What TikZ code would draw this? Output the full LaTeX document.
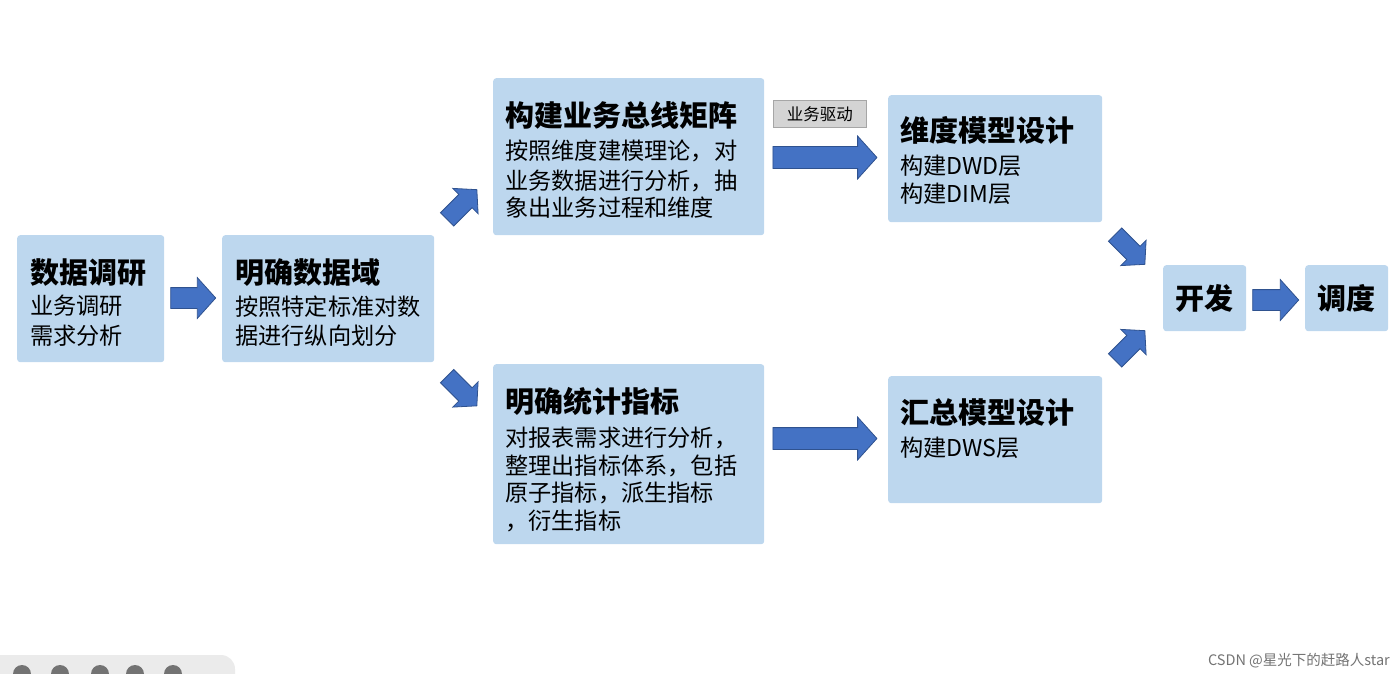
\documentclass[tikz,border=0pt]{standalone}
\usepackage{fontspec}
\setmainfont{Noto Sans CJK SC}
\usetikzlibrary{shapes.arrows}
\definecolor{boxblue}{HTML}{BDD7EE}
\definecolor{arrblue}{HTML}{4472C4}
\definecolor{arredge}{HTML}{2F528F}
\tikzset{
  box/.style={fill=boxblue, rounded corners=3pt, inner sep=0pt, anchor=north west},
  ttl/.style={font=\fontsize{29}{32}\selectfont\bfseries, anchor=base west, inner sep=0pt},
  bdy/.style={font=\fontsize{23.2}{27}\selectfont, anchor=base west, inner sep=0pt},
  blk/.style={single arrow, fill=arrblue, draw=arredge, line width=0.8pt, inner xsep=0pt,
    single arrow head indent=0pt, single arrow tip angle=96},
}
\begin{document}
\begin{tikzpicture}[x=1pt,y=-1pt]
\useasboundingbox (0,0) rectangle (1400,674);
% toolbar artifact
\fill[black!8, rounded corners=14pt] (-20,655) rectangle (235,700);
\foreach \cx in {22,60,100,135,173}{\fill[black!55] (\cx,674) circle (9);}
% boxes
\node[box, minimum width=147, minimum height=127] (b1) at (17,235) {};
\node[box, minimum width=212, minimum height=127] (b2) at (222,235) {};
\node[box, minimum width=271, minimum height=157] (b3) at (493,78) {};
\node[box, minimum width=271, minimum height=180] (b4) at (493,364) {};
\node[box, minimum width=214, minimum height=127] (b5) at (888,95) {};
\node[box, minimum width=214, minimum height=127] (b6) at (888,376) {};
\node[box, minimum width=83, minimum height=66] (b7) at (1163,265) {};
\node[box, minimum width=83, minimum height=66] (b8) at (1305,265) {};
% texts
\node[ttl] (t1) at (30,283) {数据调研};
\node[bdy] (t1a) at (30,314) {业务调研};
\node[bdy] (t1b) at (30,344) {需求分析};
\node[ttl] (t2) at (235,283) {明确数据域};
\node[bdy] (t2a) at (235,315) {按照特定标准对数};
\node[bdy] (t2b) at (235,344) {据进行纵向划分};
\node[ttl] (t3) at (505,127) {构建业务总线矩阵};
\node[bdy] (t3a) at (505,160) {按照维度建模理论，对};
\node[bdy] (t3b) at (505,189) {业务数据进行分析，抽};
\node[bdy] (t3c) at (505,216) {象出业务过程和维度};
\node[ttl] (t4) at (505,412) {明确统计指标};
\node[bdy] (t4a) at (505,446) {对报表需求进行分析，};
\node[bdy] (t4b) at (505,474) {整理出指标体系，包括};
\node[bdy] (t4c) at (505,501) {原子指标，派生指标};
\node[bdy] (t4d) at (505,529) {，衍生指标};
\node[ttl] (t5) at (900,142) {维度模型设计};
\node[bdy] (t5a) at (900,174) {构建DWD层};
\node[bdy] (t5b) at (900,202) {构建DIM层};
\node[ttl] (t6) at (900,423) {汇总模型设计};
\node[bdy] (t6a) at (900,456) {构建DWS层};
\node[font=\fontsize{29}{32}\selectfont\bfseries, inner sep=0pt] (t7) at (b7.center) {开发};
\node[font=\fontsize{29}{32}\selectfont\bfseries, inner sep=0pt] (t8) at (b8.center) {调度};
% label
\node[fill=black!17, draw=black!35, line width=0.6pt, minimum width=93, minimum height=27, inner sep=0pt,
  font=\fontsize{16.5}{18}\selectfont, anchor=north west] (lbl) at (773,100) {业务驱动};
% block arrows
\node[blk, minimum height=45, inner ysep=10, single arrow head extend=10] (a1) at (188.5,298) {};
\node[blk, minimum height=104, inner ysep=10.5, single arrow head extend=10.5] (a2) at (820,157.5) {};
\node[blk, minimum height=104, inner ysep=10.5, single arrow head extend=10.5] (a3) at (820,438.5) {};
\node[blk, minimum height=46, inner ysep=10, single arrow head extend=10] (a4) at (1271,300) {};
\node[blk, minimum height=42, inner ysep=9, single arrow head extend=8.5, rotate=45] (d1) at (459,207.5) {};
\node[blk, minimum height=42, inner ysep=9, single arrow head extend=8.5, rotate=-45] (d2) at (459,388) {};
\node[blk, minimum height=42, inner ysep=9, single arrow head extend=8.5, rotate=-45] (d3) at (1127,246.5) {};
\node[blk, minimum height=42, inner ysep=9, single arrow head extend=8.5, rotate=45] (d4) at (1127,348.5) {};
% watermark
\node[font=\fontsize{14.5}{16}\selectfont, text=black!55, anchor=base east, inner sep=0pt] (wm) at (1390,665) {CSDN @星光下的赶路人star};
\end{tikzpicture}
\end{document}
